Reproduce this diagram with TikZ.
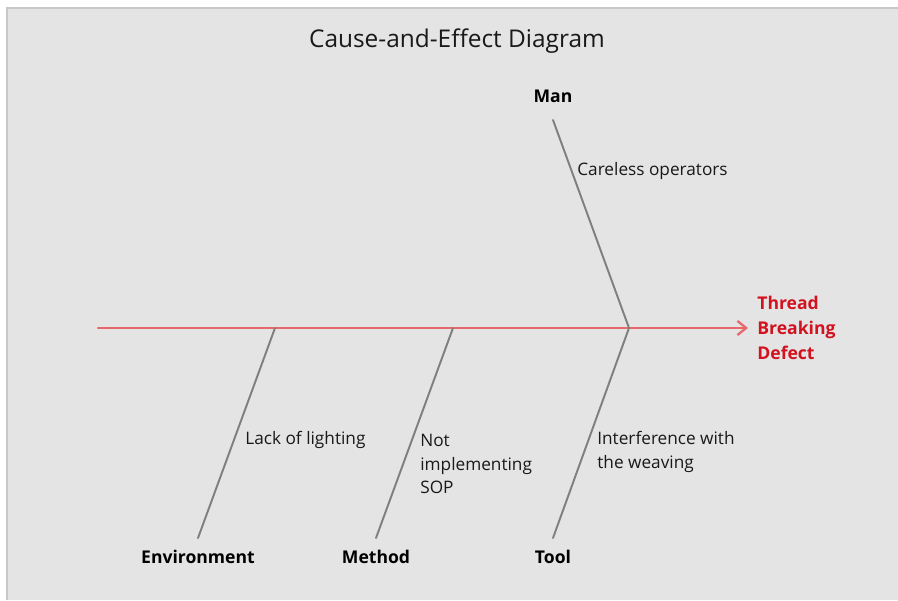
\documentclass[tikz,border=0pt]{standalone}
\usepackage{fontspec}
\setmainfont{Open Sans}
\RequirePackage{tikz}
\RequirePackage{tkz-euclide}
\usetikzlibrary{arrows.meta}

\definecolor{panelgray}{HTML}{E4E4E4}
\definecolor{framegray}{HTML}{C8C8C8}
\definecolor{bonegray}{HTML}{7F7F7F}
\definecolor{spinered}{HTML}{E8696B}
\definecolor{effectred}{HTML}{D2121E}

\tikzset{
  bone/.style={color=bonegray,line width=1.1pt},
  spine/.style={color=spinered,line width=1.3pt,-{Straight Barb[length=5pt,width=8pt]}},
  causetext/.style={font=\fontsize{9.8}{13.6}\selectfont,text=black!90,align=left,inner sep=0pt},
  bonetext/.style={font=\fontsize{10}{11}\selectfont\bfseries,text=black,inner sep=0pt},
}

\begin{document}
\begin{tikzpicture}[scale=1.0]
                \useasboundingbox (0,0) rectangle (17.96,12);
                \fill[white] (0,0) rectangle (17.96,12);
                \fill[panelgray] (0.14,0) rectangle (17.96,11.84);
                \draw[framegray,line width=1.1pt] (0.14,0) -- (0.14,11.84) -- (17.96,11.84);

                \tkzDefPoint(1.96,5.44){S}
                \tkzDefPoint(14.96,5.44){E}
                \tkzDefPoint(12.58,5.44){H}
                \tkzDefPoint(9.06,5.44){J2}
                \tkzDefPoint(5.50,5.44){J1}

                \tkzDefPoint(11.06,9.60){Man}
                \tkzDefPoint(11.06,1.24){Tool}
                \tkzDefPoint(7.52,1.24){Method}
                \tkzDefPoint(3.96,1.24){Env}

                \tkzDefPoint(9.14,11.18){T}
                \tkzDefPoint(15.14,5.44){D}

                \tkzDefPoint(11.06,10.08){ManL}
                \tkzDefPoint(11.06,0.86){ToolL}
                \tkzDefPoint(7.52,0.86){MethodL}
                \tkzDefPoint(3.96,0.86){EnvL}

                \tkzDefPoint(11.54,8.58){C1}
                \tkzDefPoint(11.94,2.96){C2}
                \tkzDefPoint(8.40,2.72){C3}
                \tkzDefPoint(4.90,3.20){C4}

                \tkzDrawSegment[spine](S,E)

                \tkzDrawSegment[bone](Man,H)
                \tkzDrawSegment[bone](H,Tool)
                \tkzDrawSegment[bone](J2,Method)
                \tkzDrawSegment[bone](J1,Env)

                \tkzLabelPoint[font=\fontsize{13.9}{16}\selectfont,text=black!90,anchor=center](T){Cause-and-Effect Diagram}

                \tkzLabelPoint[anchor=west,align=left,inner sep=0pt,text=effectred,font=\fontsize{10}{14.2}\selectfont\bfseries](D){Thread\\Breaking\\Defect}

                \tkzLabelPoint[bonetext,anchor=center](ManL){Man}
                \tkzLabelPoint[bonetext,anchor=center](ToolL){Tool}
                \tkzLabelPoint[bonetext,anchor=center](MethodL){Method}
                \tkzLabelPoint[bonetext,anchor=center](EnvL){Environment}

                \tkzLabelPoint[causetext,anchor=west](C1){Careless operators}
                \tkzLabelPoint[causetext,anchor=west](C2){Interference with\\the weaving}
                \tkzLabelPoint[causetext,anchor=west](C3){Not\\implementing\\SOP}
                \tkzLabelPoint[causetext,anchor=west](C4){Lack of lighting}
            \end{tikzpicture}
\end{document}
